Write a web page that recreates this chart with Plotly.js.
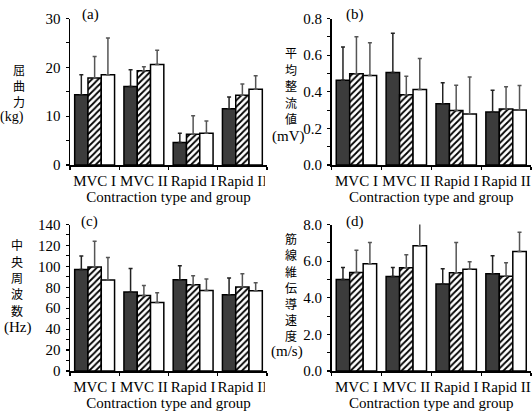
<!DOCTYPE html>
<html>
<head>
<meta charset="utf-8">
<script src="https://cdn.plot.ly/plotly-3.0.1.min.js"></script>
<style>html,body{margin:0;padding:0;background:#fff;}#chart{width:532px;height:412px;}</style>
</head>
<body>
<div id="chart"></div>
<script>
// ---- data ----
var categories = ['MVC I', 'MVC II', 'Rapid I', 'Rapid II'];

// (a) 屈曲力 (kg)
var forceG1 = [14.4, 16.1, 4.6, 11.5];
var forceG1SD = [4.1, 3.4, 1.9, 2.4];
var forceG2 = [17.8, 19.3, 6.3, 14.3];
var forceG2SD = [4.4, 0.8, 3.8, 2.3];
var forceG3 = [18.5, 20.6, 6.5, 15.5];
var forceG3SD = [7.5, 2.9, 2.5, 2.8];

// (b) 平均整流値 (mV)
var arvG1 = [0.463, 0.505, 0.335, 0.290];
var arvG1SD = [0.182, 0.215, 0.114, 0.118];
var arvG2 = [0.498, 0.383, 0.298, 0.306];
var arvG2SD = [0.202, 0.102, 0.138, 0.121];
var arvG3 = [0.489, 0.412, 0.278, 0.300];
var arvG3SD = [0.179, 0.170, 0.202, 0.134];

// (c) 中央周波数 (Hz)
var mpfG1 = [97.0, 75.4, 87.2, 72.9];
var mpfG1SD = [12.8, 22.6, 13.3, 15.9];
var mpfG2 = [99.3, 72.2, 82.4, 80.2];
var mpfG2SD = [24.8, 9.6, 8.6, 12.7];
var mpfG3 = [86.9, 65.5, 77.0, 76.7];
var mpfG3SD = [21.6, 9.3, 10.8, 7.6];

// (d) 筋線維伝導速度 (m/s)
var cvG1 = [5.00, 5.16, 4.75, 5.31];
var cvG1SD = [0.65, 0.49, 0.83, 0.98];
var cvG2 = [5.38, 5.64, 5.36, 5.18];
var cvG2SD = [1.22, 0.71, 1.66, 0.73];
var cvG3 = [5.85, 6.84, 5.56, 6.53];
var cvG3SD = [1.17, 1.31, 0.40, 1.05];

var panelLabels = ['(a)', '(b)', '(c)', '(d)'];
var xTitle = 'Contraction type and group';
var yTitleChars = [['屈', '曲', '力'], ['平', '均', '整', '流', '値'],
                   ['中', '央', '周', '波', '数'], ['筋', '線', '維', '伝', '導', '速', '度']];
var yTitleUnits = ['(kg)', '(mV)', '(Hz)', '(m/s)'];

// ---- drawing ----
var W = 532, H = 412;
var serif = 'Liberation Serif, Times New Roman, serif';
var cjk = 'Noto Sans CJK JP, Noto Sans CJK SC, sans-serif';

function zeros(n){ var a=[]; for (var i=0;i<n;i++) a.push(0); return a; }

function group(vals, sd, idx, xa, ya) {
  var styles = [
    {marker: {color: '#3c3c3c', line: {color: '#000', width: 1.5}}, err: '#222'},
    {marker: {color: '#ffffff', line: {color: '#000', width: 1.5},
              pattern: {shape: '/', fgcolor: '#000', bgcolor: '#fff', size: 4.5, solidity: 0.4}}, err: '#555'},
    {marker: {color: '#ffffff', line: {color: '#000', width: 1.5}}, err: '#555'}
  ];
  var s = styles[idx];
  return {
    type: 'bar', x: categories, y: vals, xaxis: xa, yaxis: ya,
    marker: s.marker, showlegend: false, hoverinfo: 'skip',
    error_y: {type: 'data', symmetric: false, array: sd, arrayminus: zeros(sd.length),
              color: s.err, thickness: 1.5, width: 2}
  };
}

var data = [
  group(forceG1, forceG1SD, 0, 'x', 'y'),
  group(forceG2, forceG2SD, 1, 'x', 'y'),
  group(forceG3, forceG3SD, 2, 'x', 'y'),
  group(arvG1, arvG1SD, 0, 'x2', 'y2'),
  group(arvG2, arvG2SD, 1, 'x2', 'y2'),
  group(arvG3, arvG3SD, 2, 'x2', 'y2'),
  group(mpfG1, mpfG1SD, 0, 'x3', 'y3'),
  group(mpfG2, mpfG2SD, 1, 'x3', 'y3'),
  group(mpfG3, mpfG3SD, 2, 'x3', 'y3'),
  group(cvG1, cvG1SD, 0, 'x4', 'y4'),
  group(cvG2, cvG2SD, 1, 'x4', 'y4'),
  group(cvG3, cvG3SD, 2, 'x4', 'y4')
];

function px(x){ return x / W; }
function py(y){ return 1 - y / H; }

var tickFont = {family: serif, size: 15, color: '#000'};

function xAxis(x0, x1, anchor) {
  return {
    domain: [px(x0), px(x1)], anchor: anchor, type: 'category',
    range: [-0.5, 3.5], showline: true, linecolor: '#000', linewidth: 1.5,
    ticks: 'outside', tickson: 'boundaries', ticklen: 3, tickwidth: 1.2, tickcolor: '#000',
    showgrid: false, zeroline: false, tickfont: tickFont, tickangle: 0, ticklabelstandoff: 1,
    title: {text: xTitle, font: {family: serif, size: 15, color: '#000'}, standoff: 3},
    automargin: false
  };
}
function yAxis(y0, y1, anchor, range, dtick, minor, fmt) {
  return {
    domain: [py(y1), py(y0)], anchor: anchor, range: range, dtick: dtick, tick0: 0,
    showline: true, linecolor: '#000', linewidth: 1.5,
    ticks: 'outside', ticklen: 3, tickwidth: 1.2, tickcolor: '#000',
    minor: {dtick: minor, ticks: 'outside', ticklen: 3, tickwidth: 1, tickcolor: '#000', showgrid: false},
    showgrid: false, zeroline: false, tickfont: tickFont, tickformat: fmt, ticklabelstandoff: 2,
    automargin: false
  };
}

var topY0 = 18.5, topY1 = 165;
var botY0 = 224.5, botY1 = 371;
var leftX0 = 70, leftX1 = 267;
var rightX0 = 331.5, rightX1 = 531;

function ann(text, x, y, font, xanchor) {
  return {text: text, xref: 'paper', yref: 'paper', x: px(x), y: py(y),
          xanchor: xanchor || 'center', yanchor: 'middle', showarrow: false, font: font, align: 'center'};
}

var labelFont = {family: serif, size: 15, color: '#000'};
var annotations = [
  ann(panelLabels[0], 90, 15, labelFont),
  ann(panelLabels[1], 355, 15, labelFont),
  ann(panelLabels[2], 89, 221, labelFont),
  ann(panelLabels[3], 355, 221, labelFont),
  ann(yTitleUnits[0], 12, 117.5, {family: serif, size: 14, color: '#000'}),
  ann(yTitleUnits[1], 288, 137, labelFont),
  ann(yTitleUnits[2], 17, 327.5, labelFont),
  ann(yTitleUnits[3], 287, 351.5, labelFont)
];
// vertical CJK axis titles, one character per line
var titleCols = [
  {x: 19, y0: 69.5, step: 16},
  {x: 291, y0: 52.5, step: 16.6},
  {x: 17, y0: 245, step: 16.3},
  {x: 291, y0: 239, step: 16}
];
yTitleChars.forEach(function (chars, p) {
  var c = titleCols[p];
  chars.forEach(function (ch, i) {
    annotations.push(ann(ch, c.x, c.y0 + i * c.step, {family: cjk, size: 12, color: '#000'}));
  });
});

var shapes = [
  {type: 'rect', xref: 'paper', yref: 'paper', layer: 'above',
   x0: px(264.8), x1: px(276), y0: py(190), y1: py(171), fillcolor: '#fff', line: {width: 0}},
  {type: 'rect', xref: 'paper', yref: 'paper', layer: 'above',
   x0: px(264.8), x1: px(276), y0: py(396), y1: py(377), fillcolor: '#fff', line: {width: 0}}
];

var layout = {
  width: W, height: H, margin: {l: 0, r: 0, t: 0, b: 0},
  paper_bgcolor: '#fff', plot_bgcolor: '#fff',
  barmode: 'group', bargap: 0.19, bargroupgap: 0,
  showlegend: false,
  xaxis: xAxis(leftX0, leftX1, 'y'),
  yaxis: yAxis(topY0, topY1, 'x', [0, 30], 10, 5, 'd'),
  xaxis2: xAxis(rightX0, rightX1, 'y2'),
  yaxis2: yAxis(topY0, topY1, 'x2', [0, 0.8], 0.2, 0.1, '.1f'),
  xaxis3: xAxis(leftX0, leftX1, 'y3'),
  yaxis3: yAxis(botY0, botY1, 'x3', [0, 140], 20, 10, 'd'),
  xaxis4: xAxis(rightX0, rightX1, 'y4'),
  yaxis4: yAxis(botY0, botY1, 'x4', [0, 8], 2, 1, '.1f'),
  annotations: annotations,
  shapes: shapes,
  font: {family: serif, color: '#000'}
};

Plotly.newPlot('chart', data, layout, {staticPlot: true, displayModeBar: false});
</script>
</body>
</html>
